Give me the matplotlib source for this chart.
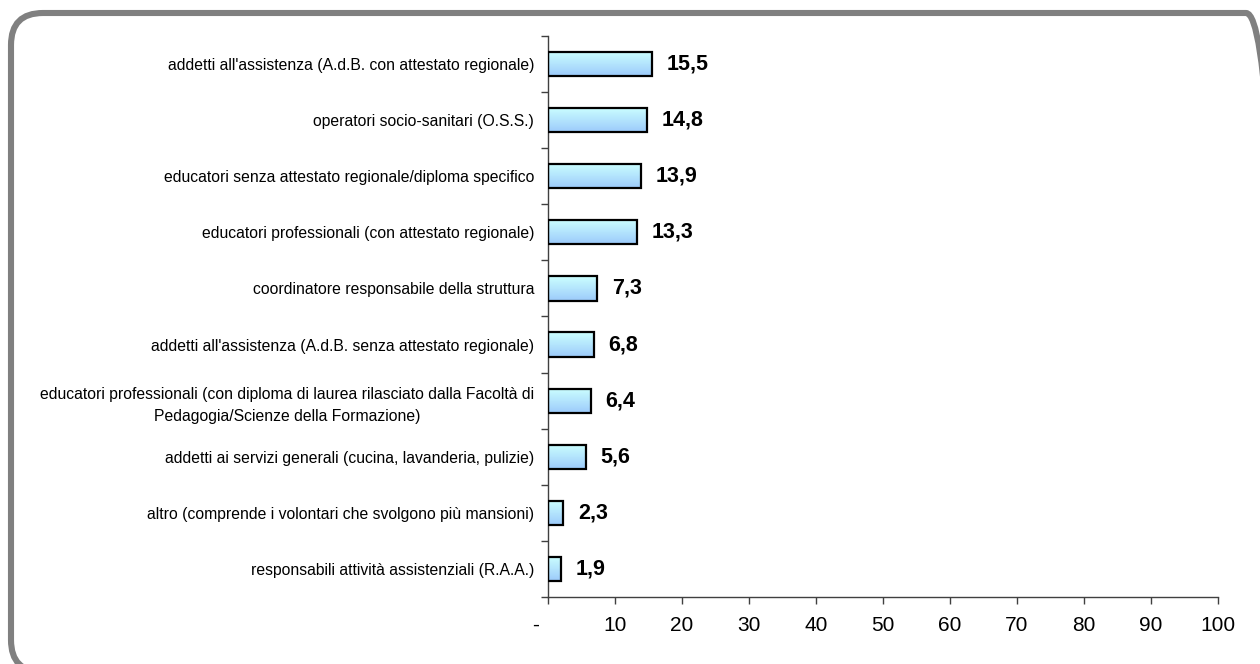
import numpy as np
import matplotlib
matplotlib.use('Agg')
import matplotlib.pyplot as plt
from matplotlib.colors import LinearSegmentedColormap
from matplotlib.patches import FancyBboxPatch
from matplotlib.transforms import IdentityTransform

plt.rcParams['font.family'] = ['Liberation Sans', 'DejaVu Sans']

# data (top to bottom as in the chart)
categories = [
    "addetti all'assistenza (A.d.B. con attestato regionale)",
    "operatori socio-sanitari (O.S.S.)",
    "educatori senza attestato regionale/diploma specifico",
    "educatori professionali (con attestato regionale)",
    "coordinatore responsabile della struttura",
    "addetti all'assistenza (A.d.B. senza attestato regionale)",
    "educatori professionali (con diploma di laurea rilasciato dalla Facoltà di\nPedagogia/Scienze della Formazione)",
    "addetti ai servizi generali (cucina, lavanderia, pulizie)",
    "altro (comprende i volontari che svolgono più mansioni)",
    "responsabili attività assistenziali (R.A.A.)",
]
values = [15.5, 14.8, 13.9, 13.3, 7.3, 6.8, 6.4, 5.6, 2.3, 1.9]
value_labels = ['15,5', '14,8', '13,9', '13,3', '7,3', '6,8', '6,4', '5,6', '2,3', '1,9']
x_ticks = [0, 10, 20, 30, 40, 50, 60, 70, 80, 90, 100]
x_tick_labels = ['-    ', '10', '20', '30', '40', '50', '60', '70', '80', '90', '100']

fig = plt.figure(figsize=(12.6, 6.64), dpi=100)
ax = fig.add_axes([548 / 1260, 1 - 597 / 664, (1218 - 548) / 1260, (597 - 36) / 664])

# rounded grey frame around the whole chart (in pixels), cut off right and bottom
frame = FancyBboxPatch((11, -8), 1278 - 11, 651 + 8,
                       boxstyle='round,pad=0,rounding_size=32',
                       transform=IdentityTransform(), fill=False,
                       edgecolor='#808080', linewidth=4.4, zorder=0)
fig.patches.append(frame)

n = len(categories)
ypos = np.arange(n)[::-1]
bar_h = 0.43

grad = LinearSegmentedColormap.from_list('grad', ['#9CCBFB', '#CCFFFF'])
gradient = np.linspace(0, 1, 64).reshape(-1, 1)

bars = ax.barh(ypos, values, height=bar_h, facecolor='none',
               edgecolor='black', linewidth=1.6, zorder=3)
for bar, v, y in zip(bars, values, ypos):
    im = ax.imshow(gradient, extent=[0, v, y - bar_h / 2, y + bar_h / 2],
                   origin='lower', aspect='auto', cmap=grad, zorder=2)
    im.set_clip_path(bar)

for v, y, lab in zip(values, ypos, value_labels):
    ax.text(v + 2.2, y, lab, va='center', ha='left',
            fontsize=15.5, fontweight='bold', color='black')

ax.set_xlim(0, 100)
ax.set_ylim(-0.5, n - 0.5)

ax.set_xticks(x_ticks)
ax.set_xticklabels(x_tick_labels, fontsize=15)
ax.tick_params(axis='x', direction='out', length=5, width=1, color='#404040', pad=9)

ax.set_yticks(ypos)
ax.set_yticklabels(categories, fontsize=11.3, multialignment='center', linespacing=1.55)
ax.tick_params(axis='y', which='major', length=0, pad=10)
ax.set_yticks(np.arange(n + 1) - 0.5, minor=True)
ax.tick_params(axis='y', which='minor', direction='out', length=5, width=1, color='#404040')

for side in ['top', 'right']:
    ax.spines[side].set_visible(False)
for side in ['left', 'bottom']:
    ax.spines[side].set_color('#404040')
    ax.spines[side].set_linewidth(1)

fig.savefig('out.png', dpi=100)
